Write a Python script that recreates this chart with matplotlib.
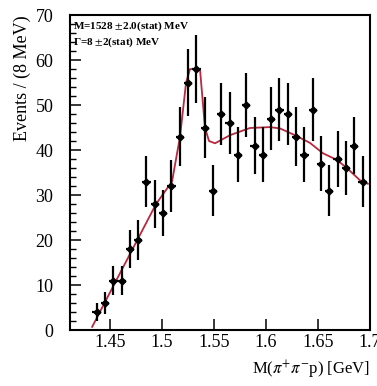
import numpy as np
import matplotlib
matplotlib.use("Agg")
import matplotlib.pyplot as plt
from matplotlib.ticker import MultipleLocator

plt.rcParams["font.family"] = ["Liberation Serif", "DejaVu Serif"]
plt.rcParams["mathtext.fontset"] = "stix"

# measured spectrum, 8 MeV bins
mass = [1.437, 1.445, 1.453, 1.461, 1.469, 1.477, 1.485, 1.493, 1.501, 1.509, 1.517,
        1.525, 1.533, 1.541, 1.549, 1.557, 1.565, 1.573, 1.581, 1.589, 1.597, 1.605,
        1.613, 1.621, 1.629, 1.637, 1.645, 1.653, 1.661, 1.669, 1.677, 1.685, 1.693]
counts = [4, 6, 11, 11, 18, 20, 33, 28, 26, 32, 43,
          55, 58, 45, 31, 48, 46, 39, 50, 41, 39, 47,
          49, 48, 43, 39, 49, 37, 31, 38, 36, 41, 33]
count_err = [2.0, 2.4, 3.3, 3.3, 4.2, 4.5, 5.7, 5.3, 5.1, 5.7, 6.6,
             7.4, 7.6, 6.7, 5.6, 6.9, 6.8, 6.2, 7.1, 6.4, 6.2, 6.9,
             7.0, 6.9, 6.6, 6.2, 7.0, 6.1, 5.6, 6.2, 6.0, 6.4, 5.7]
half_bin = 0.004

# fit curve
fit_m = [1.4327, 1.4529, 1.4942, 1.5096, 1.5173, 1.5231, 1.5269, 1.5365, 1.5413,
         1.5452, 1.5510, 1.5654, 1.5846, 1.6038, 1.6135, 1.6279, 1.6423, 1.6548,
         1.6683, 1.6779, 1.6904, 1.6981]
fit_y = [0.7, 9.7, 28.0, 33.0, 43.0, 55.0, 58.0, 58.0, 45.0,
         42.0, 41.5, 43.3, 44.9, 45.1, 44.8, 43.3, 41.6, 39.3,
         37.8, 36.0, 33.3, 32.5]

fig = plt.figure(figsize=(3.77, 3.86), dpi=100)
ax = fig.add_axes([0.186, 0.145, 0.795, 0.816])

ax.plot(fit_m, fit_y, color="#b8283f", linewidth=1.3, zorder=2)
ax.errorbar(mass, counts, yerr=count_err, xerr=half_bin, fmt="D", ms=3.5,
            color="black", ecolor="black", elinewidth=1.6, capsize=0, zorder=3)

ax.set_xlim(1.4115, 1.7)
ax.set_ylim(0, 70)
ax.set_xticks([1.45, 1.5, 1.55, 1.6, 1.65, 1.7])
ax.set_xticklabels(["1.45", "1.5", "1.55", "1.6", "1.65", "1.7"])
ax.yaxis.set_major_locator(MultipleLocator(10))
ax.yaxis.set_minor_locator(MultipleLocator(2))
ax.tick_params(axis="both", which="major", direction="in", length=8, width=1.1,
               labelsize=13, top=False, right=False)
ax.tick_params(axis="y", which="minor", direction="in", length=4, width=1.0)
ax.tick_params(axis="x", pad=3)
ax.tick_params(axis="y", pad=12)
for s in ax.spines.values():
    s.set_linewidth(1.5)

ax.text(0.01, 0.985, "M=1528 $\\pm$2.0(stat) MeV", transform=ax.transAxes,
        fontsize=8, fontweight="bold", va="top", ha="left")
ax.text(0.01, 0.935, "Γ=8 $\\pm$2(stat) MeV", transform=ax.transAxes,
        fontsize=8, fontweight="bold", va="top", ha="left")

fig.text(0.06, 0.96, "Events / (8 MeV)", rotation=90, fontsize=13,
         ha="center", va="top")
fig.text(0.982, 0.012, "M($\\pi^{+}\\pi^{-}$p) [GeV]", fontsize=12,
         ha="right", va="bottom")

fig.savefig("out.png", dpi=100)
